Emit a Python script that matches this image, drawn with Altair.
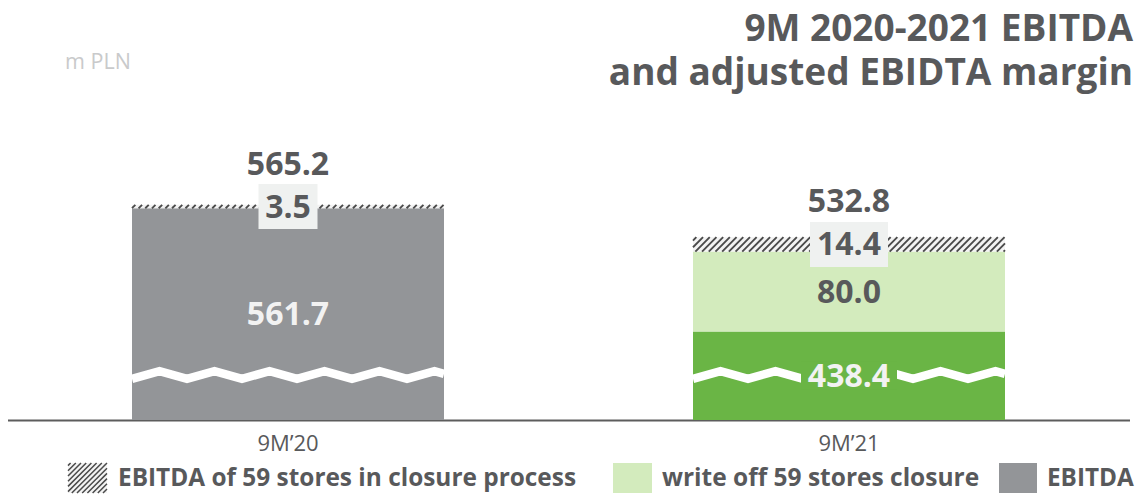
import altair as alt
import pandas as pd

# ---------------- data ----------------
periods = ["9M\u201920", "9M\u201921"]
ebitda = [561.7, 438.4]
write_off = [0.0, 80.0]
closure = [3.5, 14.4]

legend_labels = ["EBITDA of 59 stores in closure process", "write off 59 stores closure", "EBITDA"]
title_lines = ["9M 2020-2021 EBITDA", "and adjusted EBIDTA margin"]
unit_label = ["m PLN"]

# ---------------- style ----------------
FONT = "Open Sans"
DARK = "#58595b"
GRAY = "#939598"
GREEN = "#6ab545"
LGREEN = "#d3ebbd"
BOX = "#eff1f0"
HATCH_BG = "#f3f3f3"
HATCH_FG = "#4b4b4b"
LIGHT_TXT = "#f2f2f2"
Y_MIN, Y_MAX = 350, 630          # broken axis: visible part of the value scale
BREAK_AT = 395                   # where the wavy break line is drawn
W, H = 1122, 280
BAR_W = 312
STEP = W / 2
P_IN = 1 - BAR_W / STEP
PX_PER_UNIT = H / (Y_MAX - Y_MIN)

# ---------------- tables built from the arrays ----------------
rows = []
for i, p in enumerate(periods):
    base = 0.0
    for seg, v in (("ebitda", ebitda[i]), ("writeoff", write_off[i]), ("closure", closure[i])):
        if v <= 0:
            continue
        rows.append(dict(period=p, seg=seg, key=f"{seg}_{i}", value=v, start=base,
                         end=base + v, label=f"{v:.1f}",
                         mid=(max(base, Y_MIN) + base + v) / 2))
        base += v
df = pd.DataFrame(rows)
tot = df.groupby("period", as_index=False)["end"].max().rename(columns={"end": "total"})
df = df.merge(tot, on="period")
df["total_label"] = df["total"].map(lambda t: f"{t:.1f}")
brk = pd.DataFrame({"period": periods, "brk": [BREAK_AT] * len(periods)})


def stripes_path(w, h, period=6.7):
    """diagonal '/' hatch lines filling a w x h box, in symbol units"""
    r = w / 2.0
    s = h / w
    pu = period / r
    segs = []
    c = -1 - s + pu / 2
    while c < 1 + s:
        v_lo = max(-s, c - 1)
        v_hi = min(s, c + 1)
        if v_hi > v_lo:
            segs.append(f"M{c - v_lo:.4f},{v_lo:.4f}L{c - v_hi:.4f},{v_hi:.4f}")
        c += pu
    return "".join(segs)


def rect_path(w, h):
    s = h / w
    return f"M-1,{-s:.4f}L1,{-s:.4f}L1,{s:.4f}L-1,{s:.4f}Z"


def wave_path(width, half_period=27.5, amp=3.8):
    hp = 2 * half_period / width
    a = 2 * amp / width
    pts = []
    x = -1.0
    k = 0
    while x < 1.0:
        pts.append((x, a if k % 2 == 0 else -a))
        x += hp
        k += 1
    prev_x, prev_y = pts[-1]
    frac = (1.0 - prev_x) / hp
    pts.append((1.0, prev_y + (-prev_y - prev_y) * frac))
    return "M" + "L".join(f"{px:.4f},{py:.4f}" for px, py in pts)


xenc = alt.X("period:N",
             scale=alt.Scale(domain=periods, paddingInner=P_IN, paddingOuter=P_IN / 2),
             axis=alt.Axis(title=None, labelAngle=0, ticks=False, domainColor="#5d5d5d",
                           domainWidth=2, labelFont=FONT, labelFontSize=22, labelColor=DARK,
                           labelPadding=13, grid=False))
yscale = alt.Scale(domain=[Y_MIN, Y_MAX], nice=False, zero=False)

base = alt.Chart(df)

solid = base.mark_bar(clip=True).encode(
    x=xenc,
    y=alt.Y("start:Q", scale=yscale, axis=None),
    y2="end:Q",
    fill=alt.Fill("key:N", scale=alt.Scale(
        domain=["ebitda_0", "ebitda_1", "writeoff_1", "closure_0", "closure_1"],
        range=[GRAY, GREEN, LGREEN, HATCH_BG, HATCH_BG]), legend=None),
)

hatch_layers = []
for i, p in enumerate(periods):
    hatch_layers.append(
        base.transform_filter((alt.datum.seg == "closure") & (alt.datum.period == p))
        .mark_point(shape=stripes_path(BAR_W, closure[i] * PX_PER_UNIT), size=BAR_W ** 2,
                    filled=False, stroke=HATCH_FG, strokeWidth=1.9, opacity=1)
        .encode(x=xenc, y=alt.Y("mid:Q", scale=yscale, axis=None))
    )

wave = alt.Chart(brk).mark_point(
    shape=wave_path(BAR_W), size=BAR_W ** 2, filled=False, stroke="white",
    strokeWidth=8.5, opacity=1
).encode(x=xenc, y=alt.Y("brk:Q", scale=yscale, axis=None))

green_back = base.transform_filter(alt.datum.key == "ebitda_1").mark_point(
    shape=rect_path(96, 28), size=96 ** 2, filled=True, fill=GREEN, opacity=1, strokeWidth=0
).encode(x=xenc, y=alt.Y("mid:Q", scale=yscale, axis=None))

box_layers = []
for i, p in enumerate(periods):
    bw = 59 if i == 0 else 78
    box_layers.append(
        base.transform_filter((alt.datum.seg == "closure") & (alt.datum.period == p))
        .mark_point(shape=rect_path(bw, 45), size=bw ** 2, filled=True, fill=BOX, opacity=1, strokeWidth=0)
        .encode(x=xenc, y=alt.Y("mid:Q", scale=yscale, axis=None))
    )

seg_labels = base.mark_text(font=FONT, fontSize=32, fontWeight="bold", baseline="middle", dy=1).encode(
    x=xenc,
    y=alt.Y("mid:Q", scale=yscale, axis=None),
    text="label:N",
    color=alt.Color("seg:N", scale=alt.Scale(domain=["ebitda", "writeoff", "closure"],
                                             range=[LIGHT_TXT, DARK, DARK]), legend=None),
)

tot_labels = base.transform_filter(alt.datum.seg == "closure").mark_text(
    font=FONT, fontSize=32, fontWeight="bold", baseline="middle", dy=-42, color=DARK
).encode(x=xenc, y=alt.Y("mid:Q", scale=yscale, axis=None), text="total_label:N")

# ---------------- annotations (title, unit, legend) ----------------
OX, OY = 7.5, 140   # plot origin inside the page
one = pd.DataFrame({"k": [0]})


def txt(s, x, y, size, weight="bold", align="left", baseline="alphabetic", color=DARK, line_height=None):
    kw = dict(font=FONT, fontSize=size, fontWeight=weight, align=align, baseline=baseline, color=color)
    if line_height is not None:
        kw["lineHeight"] = line_height
    return alt.Chart(pd.DataFrame({"t": [s]})).mark_text(**kw).encode(
        x=alt.value(x - OX), y=alt.value(y - OY), text="t")


def swatch(x0, x1, y0, y1, fill):
    w, h = x1 - x0, y1 - y0
    return alt.Chart(one).mark_point(
        shape=rect_path(w, h), size=w ** 2, filled=True, fill=fill, opacity=1, strokeWidth=0
    ).encode(x=alt.value((x0 + x1) / 2 - OX), y=alt.value((y0 + y1) / 2 - OY))


def swatch_hatch(x0, x1, y0, y1):
    w, h = x1 - x0, y1 - y0
    return alt.Chart(one).mark_point(
        shape=stripes_path(w, h, period=5.2), size=w ** 2, filled=False,
        stroke=HATCH_FG, strokeWidth=1.5, opacity=1
    ).encode(x=alt.value((x0 + x1) / 2 - OX), y=alt.value((y0 + y1) / 2 - OY))


annos = [
    txt(list(title_lines), 1133, 41, 37, align="right", line_height=44),
    txt(unit_label[0], 65, 69, 21.5, weight="normal", color="#c9cacb"),
    swatch(68, 107, 463, 493, HATCH_BG),
    swatch_hatch(68, 107, 463, 493),
    txt(legend_labels[0], 118, 479, 24.4, baseline="middle"),
    swatch(613, 652, 463, 493, LGREEN),
    txt(legend_labels[1], 662, 479, 24.5, baseline="middle"),
    swatch(999, 1037, 463, 493, GRAY),
    txt(legend_labels[2], 1047, 479, 24.3, baseline="middle"),
]

chart = alt.layer(
    solid, *hatch_layers, wave, green_back, *box_layers, seg_labels, tot_labels, *annos
).properties(
    width=W, height=H,
    autosize=alt.AutoSizeParams(type="none"),
    padding={"left": OX, "top": OY, "right": 1140 - W - OX, "bottom": 494 - H - OY},
    background="white",
).configure_view(stroke=None)

chart.save("out.html", embed_options={"renderer": "svg", "actions": False})
